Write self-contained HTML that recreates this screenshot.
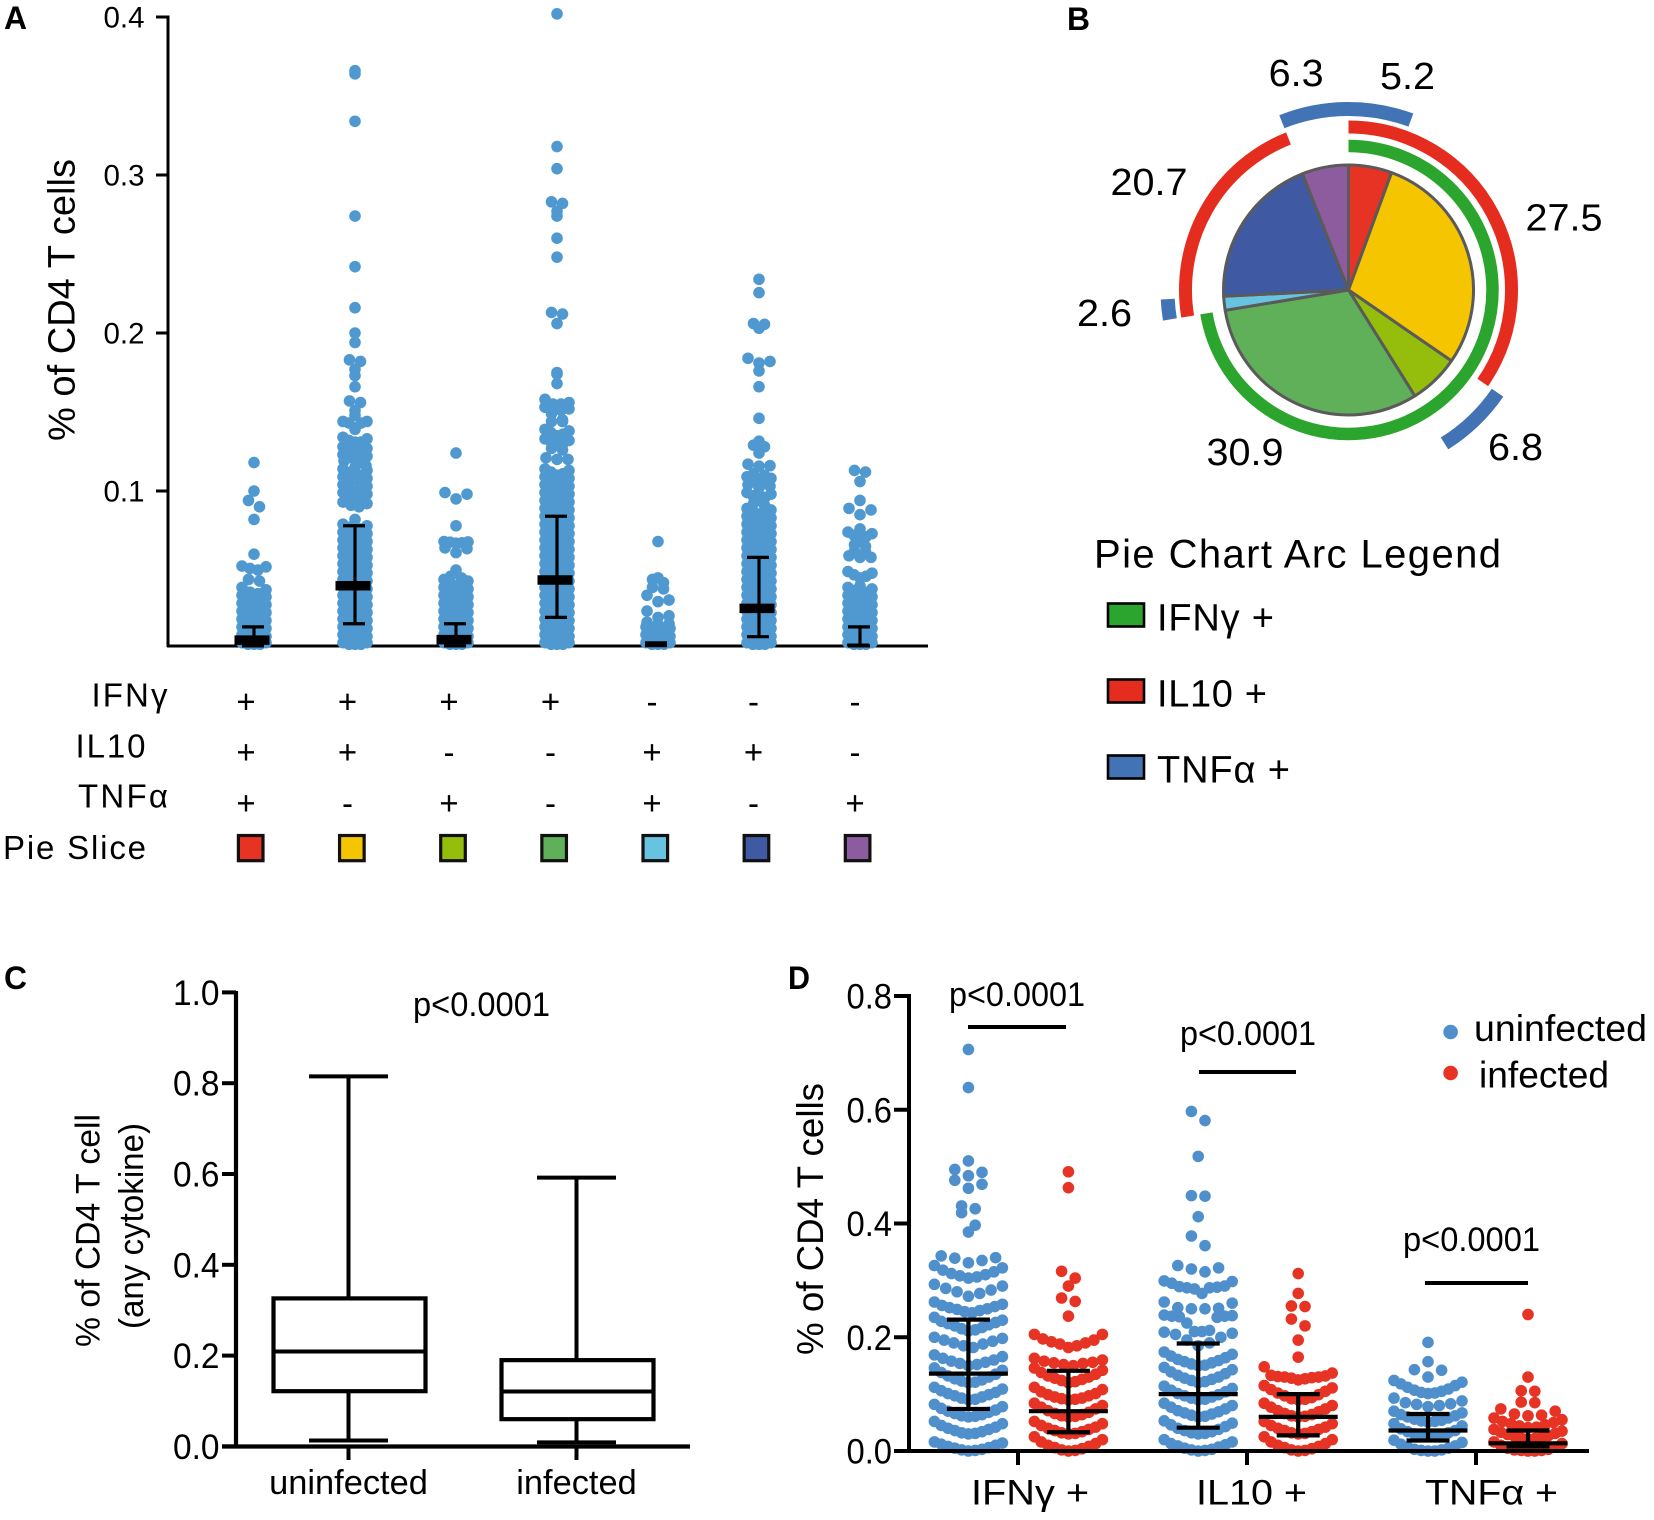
<!DOCTYPE html>
<html lang="en">
<head>
<meta charset="utf-8">
<title>Cytokine-producing CD4 T cells figure</title>
<style>
html,body{margin:0;padding:0;background:#fff;}
svg{display:block;}
text{font-family:"Liberation Sans",sans-serif;fill:#000;}
</style>
</head>
<body>
<svg id="figure" xmlns="http://www.w3.org/2000/svg" width="1654" height="1520" viewBox="0 0 1654 1520">
<rect x="0" y="0" width="1654" height="1520" fill="#fff"/>

<g id="panel-a">
<text x="4" y="29" font-size="32" font-weight="bold" textLength="23" lengthAdjust="spacingAndGlyphs">A</text>
<line x1="168" y1="15.5" x2="168" y2="647" stroke="#000" stroke-width="3"/>
<line x1="167" y1="646" x2="928" y2="646" stroke="#000" stroke-width="3"/>
<text transform="translate(74.7,441) rotate(-90)" font-size="38" textLength="282" lengthAdjust="spacingAndGlyphs">% of CD4 T cells</text>
<text x="91.5" y="706.7" font-size="33" textLength="76">IFNγ</text>
<text x="75.5" y="757.7" font-size="33" textLength="70">IL10</text>
<text x="78" y="807.7" font-size="33" textLength="90">TNFα</text>
<text x="3" y="859" font-size="33" textLength="143">Pie Slice</text>
</g>

<g id="panel-b">
<text x="1067" y="30" font-size="32" font-weight="bold" textLength="23" lengthAdjust="spacingAndGlyphs">B</text>
<text x="1094" y="567.3" font-size="40" textLength="407">Pie Chart Arc Legend</text>
<rect x="1108" y="603.5" width="36" height="23" fill="#2ca52e" stroke="#000" stroke-width="2.6"/>
<text x="1157" y="630.7" font-size="38" textLength="117">IFNγ +</text>
<rect x="1108" y="679.5" width="36" height="23" fill="#e52d1f" stroke="#000" stroke-width="2.6"/>
<text x="1157" y="706.7" font-size="38" textLength="110">IL10 +</text>
<rect x="1108" y="755.5" width="36" height="23" fill="#4274b5" stroke="#000" stroke-width="2.6"/>
<text x="1157" y="782.3" font-size="38" textLength="133">TNFα +</text>
</g>

<g id="panel-c">
<text x="4" y="989" font-size="32" font-weight="bold" textLength="23" lengthAdjust="spacingAndGlyphs">C</text>
<line x1="236" y1="991" x2="236" y2="1448" stroke="#000" stroke-width="4.2"/>
<line x1="222" y1="1446.5" x2="690" y2="1446.5" stroke="#000" stroke-width="4.2"/>
<text transform="translate(99.4,1347) rotate(-90)" font-size="34" textLength="233" lengthAdjust="spacingAndGlyphs">% of CD4 T cell</text>
<text transform="translate(143,1329) rotate(-90)" font-size="34" textLength="206" lengthAdjust="spacingAndGlyphs">(any cytokine)</text>
<text x="413" y="1016" font-size="34" textLength="137" lengthAdjust="spacingAndGlyphs">p&lt;0.0001</text>
</g>

<g id="panel-d">
<text x="788" y="989" font-size="32" font-weight="bold" textLength="22" lengthAdjust="spacingAndGlyphs">D</text>
<text transform="translate(823,1355) rotate(-90)" font-size="37" textLength="272" lengthAdjust="spacingAndGlyphs">% of CD4 T cells</text>
<line x1="1066" y1="1027" x2="968" y2="1027" stroke="#000" stroke-width="4"/>
<line x1="1199" y1="1072" x2="1296" y2="1072" stroke="#000" stroke-width="4"/>
<line x1="1425" y1="1283" x2="1528" y2="1283" stroke="#000" stroke-width="4"/>
<text x="949" y="1006" font-size="34" textLength="136" lengthAdjust="spacingAndGlyphs">p&lt;0.0001</text>
<text x="1180" y="1045" font-size="34" textLength="136" lengthAdjust="spacingAndGlyphs">p&lt;0.0001</text>
<text x="1403" y="1251" font-size="34" textLength="137" lengthAdjust="spacingAndGlyphs">p&lt;0.0001</text>
<circle cx="1450.6" cy="1032" r="7.3" fill="#4f8fcb"/>
<circle cx="1450.6" cy="1073" r="7.3" fill="#e63323"/>
<text x="1474" y="1041" font-size="37" textLength="173" lengthAdjust="spacingAndGlyphs">uninfected</text>
<text x="1479" y="1087.5" font-size="37" textLength="130" lengthAdjust="spacingAndGlyphs">infected</text>
</g>
</svg>

<script>
/* ---------- Panel A data ---------- */
const aTickValues = [0.1, 0.2, 0.3, 0.4];
const aTickLabels = ['0.1', '0.2', '0.3', '0.4'];
const aTripleValues = [0.118,0.100,0.094,0.090,0.082,0.060,0.0525,0.052,0.051,0.050,0.043,0.044,0.0375,0.039,
0.003,0.003,0.003,0.004,0.004,0.005,0.006,0.007,0.008,0.009,0.010,0.011,0.012,0.013,0.014,0.015,0.016,0.017,0.018,0.019,0.020,0.021,0.022,0.023,0.024,0.025,0.026,0.027,0.028,0.029,0.030,0.031,0.032,0.033,0.034,0.035,0.036];
const aIfnIl10Values = [0.366,0.364,0.334,0.274,0.242,0.216,0.200,0.194,0.182,0.183,0.177,0.173,0.166,0.156,0.157,0.151,0.148,0.143,0.143,0.144,0.144,0.139,0.140,
0.131,0.131,0.132,0.133,0.134,0.125,0.126,0.127,0.128,0.119,0.120,0.121,0.122,0.123,0.112,0.113,0.114,0.115,0.116,0.106,0.107,0.108,0.109,0.110,0.100,0.101,0.102,0.103,0.104,0.095,0.096,0.097,0.098,0.099,0.090,0.091,0.092,0.093,0.082,
0.003,0.003,0.003,0.004,0.004,0.005,0.006,0.007,0.008,0.009,0.010,0.011,0.012,0.013,0.014,0.015,0.016,0.017,0.018,0.019,0.020,0.021,0.022,0.023,0.024,0.025,0.026,0.027,0.028,0.029,0.030,0.031,0.032,0.033,0.034,0.035,0.036,0.037,0.038,0.039,0.040,0.041,0.042,0.043,0.044,0.045,0.046,0.047,0.048,0.049,0.050,0.051,0.052,0.053,0.054,0.055,0.056,0.057,0.058,0.059,0.060,0.061,0.062,0.063,0.064,0.065,0.066,0.067,0.068,0.069,0.070,0.071,0.072,0.073,0.074,0.075,0.076,0.077,0.078,0.079];
const aIfnTnfValues = [0.124,0.098,0.099,0.095,0.078,0.0676,0.0678,0.068,0.067,0.0672,0.0635,0.064,0.061,0.050,
0.003,0.003,0.003,0.004,0.004,0.005,0.006,0.007,0.008,0.009,0.010,0.011,0.012,0.013,0.014,0.015,0.016,0.017,0.018,0.019,0.020,0.021,0.022,0.023,0.024,0.025,0.026,0.027,0.028,0.029,0.030,0.031,0.032,0.033,0.034,0.035,0.036,0.037,0.038,0.039,0.040,0.041,0.042,0.043,0.044,0.045,0.046];
const aIfnValues = [0.402,0.318,0.304,0.282,0.283,0.277,0.274,0.260,0.248,0.212,0.213,0.206,0.174,0.175,0.168,0.158,0.155,0.155,0.156,0.151,0.151,0.152,0.153,0.149,0.144,0.144,0.145,0.135,0.136,0.137,0.138,0.139,0.130,0.130,0.131,0.132,0.133,0.126,0.127,0.120,0.120,0.121,
0.110,0.111,0.112,0.113,0.114,0.105,0.106,0.107,0.108,0.109,0.100,0.101,0.102,0.103,0.104,0.095,0.096,0.097,0.098,0.099,0.091,0.092,0.091,0.093,0.094,
0.003,0.003,0.003,0.004,0.004,0.005,0.006,0.007,0.008,0.009,0.010,0.011,0.012,0.013,0.014,0.015,0.016,0.017,0.018,0.019,0.020,0.021,0.022,0.023,0.024,0.025,0.026,0.027,0.028,0.029,0.030,0.031,0.032,0.033,0.034,0.035,0.036,0.037,0.038,0.039,0.040,0.041,0.042,0.043,0.044,0.045,0.046,0.047,0.048,0.049,0.050,0.051,0.052,0.053,0.054,0.055,0.056,0.057,0.058,0.059,0.060,0.061,0.062,0.063,0.064,0.065,0.066,0.067,0.068,0.069,0.070,0.071,0.072,0.073,0.074,0.075,0.076,0.077,0.078,0.079,0.080,0.081,0.082,0.083,0.084,0.085,0.086,0.087,0.088,0.089];
const aIl10TnfValues = [0.068,0.044,0.045,0.042,0.038,0.039,0.034,0.030,0.031,0.024,0.020,0.021,0.0155,0.016,0.017,
0.003,0.003,0.003,0.004,0.004,0.005,0.006,0.007,0.008,0.009,0.010,0.011,0.012,0.013,0.014];
const aIl10Values = [0.234,0.2255,0.2055,0.206,0.203,0.184,0.181,0.182,0.176,0.166,0.146,0.1315,0.128,0.129,0.124,0.1157,0.116,0.117,0.110,0.111,0.106,0.107,0.108,0.109,0.102,0.103,0.104,0.095,0.096,0.097,0.098,0.099,0.091,0.092,
0.0855,0.086,0.087,0.088,0.089,0.003,0.003,0.003,0.004,0.004,0.005,0.006,0.007,0.008,0.009,0.010,0.011,0.012,0.013,0.014,0.015,0.016,0.017,0.018,0.019,0.020,0.021,0.022,0.023,0.024,0.025,0.026,0.027,0.028,0.029,0.030,0.031,0.032,0.033,0.034,0.035,0.036,0.037,0.038,0.039,0.040,0.041,0.042,0.043,0.044,0.045,0.046,0.047,0.048,0.049,0.050,0.051,0.052,0.053,0.054,0.055,0.056,0.057,0.058,0.059,0.060,0.061,0.062,0.063,0.064,0.065,0.066,0.067,0.068,0.069,0.070,0.071,0.072,0.073,0.074,0.075,0.076,0.077,0.078,0.079,0.080,0.081,0.082,0.083,0.084];
const aTnfValues = [0.112,0.113,0.106,0.094,0.088,0.089,0.085,0.076,0.070,0.071,0.072,0.073,0.074,0.065,0.066,0.0615,0.062,0.058,0.058,0.059,0.045,0.046,0.047,0.048,0.049,
0.003,0.003,0.003,0.004,0.004,0.005,0.006,0.007,0.008,0.009,0.010,0.011,0.012,0.013,0.014,0.015,0.016,0.017,0.018,0.019,0.020,0.021,0.022,0.023,0.024,0.025,0.026,0.027,0.028,0.029,0.030,0.031,0.032,0.033,0.034,0.035,0.036,0.037,0.038,0.039,0.040];
const aMedians = [0.0056, 0.040, 0.0059, 0.0437, 0.003, 0.0257, 0.0025];
const aUpperQuartiles = [0.014, 0.078, 0.016, 0.084, 0.003, 0.058, 0.014];
const aLowerQuartiles = [0.002, 0.016, 0.002, 0.020, 0.003, 0.0078, 0.002];

/* ---------- Panel A cytokine table ---------- */
const ifnFlags = ['+','+','+','+','-','-','-'];
const il10Flags = ['+','+','-','-','+','+','-'];
const tnfFlags = ['+','-','+','-','+','-','+'];
const sliceColors = ['#e63323','#f5c500','#95bd0c','#60b05a','#68c3e0','#3f5aa3','#8c5c9e'];

/* ---------- Panel B data ---------- */
const sliceShares = [5.6, 29.0, 6.5, 31.3, 1.8, 19.8, 6.0];
const arcLabels = ['6.3', '5.2', '27.5', '6.8', '30.9', '2.6', '20.7'];

/* ---------- Panel C data ---------- */
const cTickValues = [0, 0.2, 0.4, 0.6, 0.8, 1.0];
const cTickLabels = ['0.0', '0.2', '0.4', '0.6', '0.8', '1.0'];
const cCategories = ['uninfected', 'infected'];
const cWhiskerHigh = [0.815, 0.592];
const cBoxTop = [0.326, 0.190];
const cBoxMedian = [0.209, 0.121];
const cBoxBottom = [0.1216, 0.060];
const cWhiskerLow = [0.013, 0.009];

/* ---------- Panel D data ---------- */
const dTickValues = [0, 0.2, 0.4, 0.6, 0.8];
const dTickLabels = ['0.0', '0.2', '0.4', '0.6', '0.8'];
const dCategories = ['IFNγ +', 'IL10 +', 'TNFα +'];
const dIfnUninfected = [0.000,0.001,0.002,0.003,0.005,0.006,0.008,0.010,0.012,0.014,0.016,
0.030,0.031,0.032,0.034,0.036,0.038,0.040,0.042,0.045,0.048,0.052,
0.060,0.061,0.062,0.064,0.066,0.068,0.070,0.072,0.075,0.078,0.082,
0.090,0.091,0.093,0.095,0.097,0.099,0.101,0.103,0.106,0.109,0.112,
0.120,0.121,0.123,0.125,0.127,0.130,0.132,0.135,0.138,0.142,0.146,
0.150,0.152,0.154,0.156,0.158,0.160,0.163,0.166,0.169,
0.182,0.185,0.188,0.190,0.193,0.195,0.198,0.200,
0.211,0.213,0.215,0.217,0.220,0.222,0.224,0.226,0.228,0.230,0.235,
0.243,0.245,0.247,0.249,0.250,0.252,0.254,0.256,0.258,0.262,
0.272,0.277,0.280,0.283,0.286,0.290,0.293,
0.304,0.306,0.308,0.310,0.312,0.315,0.318,0.322,0.326,
0.331,0.335,0.339,0.340,0.343,
0.385,0.397,0.419,0.426,0.431,0.462,0.469,0.476,0.484,0.490,0.495,0.510,0.639,0.706];
const dIfnInfected = [0.000,0.001,0.002,0.004,0.006,0.008,0.010,0.013,0.016,0.020,0.025,
0.030,0.031,0.032,0.034,0.036,0.038,0.040,0.042,0.045,0.048,0.052,
0.060,0.061,0.062,0.064,0.066,0.068,0.071,0.074,0.077,0.080,0.084,
0.090,0.091,0.092,0.093,0.095,0.097,0.099,0.101,0.104,0.108,0.112,
0.120,0.122,0.124,0.126,0.128,0.130,0.132,0.135,0.138,0.142,0.146,
0.150,0.152,0.154,0.156,0.158,0.160,0.163,0.155,
0.182,0.185,0.188,0.190,0.192,0.195,0.197,0.205,0.205,
0.237,0.263,0.269,0.290,0.304,0.316,0.463,0.491];
const dIl10Uninfected = [0.000,0.001,0.002,0.003,0.005,0.007,0.009,0.011,0.013,0.016,0.020,
0.030,0.031,0.032,0.034,0.036,0.038,0.040,0.043,0.046,0.049,0.053,
0.060,0.061,0.063,0.065,0.067,0.069,0.071,0.074,0.077,0.080,0.084,
0.090,0.091,0.093,0.095,0.097,0.099,0.101,0.104,0.107,0.110,0.114,
0.120,0.122,0.124,0.126,0.128,0.130,0.133,0.136,0.139,0.143,0.147,
0.150,0.151,0.153,0.155,0.157,0.159,0.161,0.164,0.167,0.170,0.174,
0.185,0.190,0.195,0.200,0.205,0.207,0.209,
0.210,0.210,0.212,0.225,0.235,0.236,0.237,0.237,0.238,0.239,
0.250,0.250,0.251,0.252,0.260,0.262,
0.277,0.285,0.287,0.287,0.288,0.289,0.290,0.295,0.298,0.299,
0.315,0.320,0.322,0.326,
0.361,0.378,0.412,0.448,0.449,0.518,0.581,0.597];
const dIl10Infected = [0.000,0.001,0.002,0.004,0.006,0.008,0.010,0.013,0.016,0.020,0.025,
0.030,0.031,0.032,0.034,0.036,0.038,0.040,0.042,0.045,0.048,0.052,
0.060,0.061,0.062,0.064,0.066,0.069,0.071,0.074,0.077,0.080,0.084,
0.090,0.091,0.092,0.094,0.097,0.099,0.102,0.105,0.108,0.111,0.115,
0.125,0.127,0.128,0.129,0.130,0.130,0.131,0.132,0.133,0.137,0.148,
0.165,0.195,0.220,0.232,0.254,0.255,0.277,0.312];
const dTnfUninfected = [0.000,0.000,0.001,0.002,0.003,0.005,0.007,0.009,0.012,0.015,0.019,
0.026,0.027,0.028,0.029,0.030,0.032,0.034,0.036,0.039,0.044,0.048,
0.051,0.052,0.053,0.054,0.056,0.058,0.060,0.062,0.064,0.067,0.070,
0.078,0.080,0.082,0.083,0.085,0.088,0.093,
0.101,0.102,0.103,0.105,0.107,0.109,0.112,0.115,0.118,0.121,0.124,
0.130,0.142,0.143,0.157,0.191];
const dTnfInfected = [0.000,0.000,0.001,0.001,0.002,0.003,0.005,0.007,0.010,0.013,0.016,
0.021,0.022,0.023,0.024,0.026,0.027,0.029,0.031,0.033,0.035,0.038,
0.041,0.042,0.044,0.046,0.048,0.050,0.052,0.055,0.058,
0.062,0.063,0.065,0.070,0.074,0.085,0.086,0.105,0.106,0.130,0.240];
const dMedians = [0.136, 0.070, 0.100, 0.060, 0.036, 0.0135];
const dUpperQuartiles = [0.231, 0.141, 0.189, 0.100, 0.065, 0.036];
const dLowerQuartiles = [0.074, 0.033, 0.041, 0.0275, 0.0185, 0.008];
const dBinSizes = [0.03, 0.03, 0.03, 0.03, 0.025, 0.02];

/* ---------- Axis functions ---------- */
function yA(v) { return 649 - v * 1580; }
function xA(i) { return 254 + i * 101; }
function ySign(row) { return 713 + row * 50.7; }
function xSign(i) { return 246 + i * 101.5; }
function ySwatch() { return 835.5; }
function xSwatch(i) { return 238.4 + i * 101.15; }
function yC(v) { return 1446.4 - v * 454; }
function xC(i) { return 348.5 + i * 228; }
function yD(v) { return 1451 - v * 568.75; }
function xD(i) { return 968.4 + i * 100 + Math.floor(i / 2) * 29.8; }
function xDGroup(i) { return 1018 + i * 229; }
function sliceAngle(share) { return share * 3.6; }

const SVG_NS = 'http://www.w3.org/2000/svg';
const panelA = document.getElementById('panel-a');
const panelB = document.getElementById('panel-b');
const panelC = document.getElementById('panel-c');
const panelD = document.getElementById('panel-d');

function make(parent, tag, attrs, content) {
  const node = document.createElementNS(SVG_NS, tag);
  Object.keys(attrs).forEach(function (k) { node.setAttribute(k, attrs[k]); });
  if (content !== undefined) node.textContent = content;
  parent.appendChild(node);
  return node;
}

/* Bin values; each bin spreads outward from the centre, lowest value in the middle,
   with spacing chosen so a partial row still fans out toward the column width. */
function swarm(values, binSize, fullWidth, maxStep) {
  const bins = new Map();
  values.forEach(function (v) {
    const b = Math.floor(v / binSize + 1e-9);
    if (!bins.has(b)) bins.set(b, []);
    bins.get(b).push(v);
  });
  const placed = [];
  bins.forEach(function (vals) {
    vals.sort(function (p, q) { return p - q; });
    const n = vals.length;
    const step = n > 1 ? Math.min(maxStep, fullWidth / (n - 1)) : 0;
    vals.forEach(function (v, i) {
      let slot;
      if (n % 2) slot = i === 0 ? 0 : (i % 2 ? (i + 1) / 2 : -i / 2);
      else slot = (i % 2 === 0 ? 1 : -1) * (Math.floor(i / 2) + 0.5);
      placed.push({ value: v, offset: slot * step });
    });
  });
  return placed;
}

/* ---------- Panel A ---------- */
aTickValues.forEach(function (v, i) {
  const tick = make(panelA, 'line', { x1: 156, x2: 168, y1: yA(v), y2: yA(v), stroke: '#000', 'stroke-width': 3 });
  
  
  const lab = make(panelA, 'text', { x: 103.5, y: yA(v) + 10.3, 'font-size': 30, textLength: 41, lengthAdjust: 'spacingAndGlyphs' }, aTickLabels[i]);
  
  
});
const aSeries = [aTripleValues, aIfnIl10Values, aIfnTnfValues, aIfnValues, aIl10TnfValues, aIl10Values, aTnfValues];
aSeries.forEach(function (values, c) {
  const group = make(panelA, 'g', { fill: '#4f99d0' });
  
  
  swarm(values, 0.005, 24, 11).forEach(function (p) {
    const dot = make(group, 'circle', { cx: xA(c) + p.offset, cy: yA(p.value), r: 5.8 });
    
    
  });
});
aMedians.forEach(function (m, c) {
  const x = xA(c);
  const hasWhisker = aUpperQuartiles[c] > aLowerQuartiles[c];
  if (hasWhisker) {
    const stem = make(panelA, 'line', { x1: x, x2: x, y1: yA(aUpperQuartiles[c]), y2: yA(aLowerQuartiles[c]), stroke: '#000', 'stroke-width': 3.2 });
    
    
    [aUpperQuartiles[c], aLowerQuartiles[c]].forEach(function (q) {
      const cap = make(panelA, 'line', { x1: x - 12, x2: x + 10, y1: yA(q), y2: yA(q), stroke: '#000', 'stroke-width': 3.2 });
      
      
    });
  }
  const thin = c === 4 || c === 6;
  const half = thin ? 11 : 17.5;
  const med = make(panelA, 'line', { x1: x - 2 - half, x2: x - 2 + half, y1: yA(m), y2: yA(m), stroke: '#000', 'stroke-width': thin ? (c === 4 ? 6 : 3) : 9.5 });
  
  
});
[ifnFlags, il10Flags, tnfFlags].forEach(function (flags, r) {
  flags.forEach(function (f, c) {
    const mark = make(panelA, 'text', { x: xSign(c), y: ySign(r), 'font-size': 33, 'text-anchor': 'middle' }, f);
    
    
  });
});
sliceColors.forEach(function (color, c) {
  const sw = make(panelA, 'rect', { x: xSwatch(c), y: ySwatch(), width: 24.6, height: 25.2, fill: color, stroke: '#111', 'stroke-width': 3.2 });
  
  
});

/* ---------- Panel B ---------- */
const pieCx = 1348.5, pieCy = 290, pieR = 125;
function polar(r, deg) {
  const a = (deg - 90) * Math.PI / 180;
  return [pieCx + r * Math.cos(a), pieCy + r * Math.sin(a)];
}
function arcPath(r, a0, a1) {
  const p0 = polar(r, a0), p1 = polar(r, a1);
  return 'M' + p0[0] + ' ' + p0[1] + 'A' + r + ' ' + r + ' 0 ' + ((a1 - a0) > 180 ? 1 : 0) + ' 1 ' + p1[0] + ' ' + p1[1];
}
const cumulative = [0];
sliceShares.forEach(function (s, i) { cumulative.push(cumulative[i] + sliceAngle(s)); });
sliceShares.forEach(function (s, i) {
  const a0 = cumulative[i], a1 = cumulative[i + 1];
  const p0 = polar(pieR, a0), p1 = polar(pieR, a1);
  const d = 'M' + pieCx + ' ' + pieCy + 'L' + p0[0] + ' ' + p0[1] + 'A' + pieR + ' ' + pieR + ' 0 ' + ((a1 - a0) > 180 ? 1 : 0) + ' 1 ' + p1[0] + ' ' + p1[1] + 'Z';
  const slice = make(panelB, 'path', { d: d, fill: sliceColors[i], stroke: '#5a5a5a', 'stroke-width': 3, 'stroke-linejoin': 'round' });
  
  
});
function drawArcs(flags, radius, width, color, name) {
  const n = flags.length;
  flags.forEach(function (f, i) {
    if (f !== '+' || flags[(i + n - 1) % n] === '+') return;
    let end = i, angle = cumulative[i];
    let span = 0;
    while (flags[end % n] === '+' && span < n) { angle += sliceAngle(sliceShares[end % n]); end++; span++; }
    const arc = make(panelB, 'path', { d: arcPath(radius, cumulative[i], angle), fill: 'none', stroke: color, 'stroke-width': width });
    
    
  });
}
drawArcs(ifnFlags, 144, 12.5, '#2ca52e', 'ifng-arc');
drawArcs(il10Flags, 163, 13, '#e52d1f', 'il10-arc');
drawArcs(tnfFlags, 181, 14, '#4274b5', 'tnfa-arc');
const arcLabelX = [1268.6, 1380, 1525.5, 1488, 1206.5, 1077, 1110.5];
const arcLabelY = [86, 89, 230.7, 460, 465, 326, 195];
arcLabels.forEach(function (t, i) {
  const lab = make(panelB, 'text', { x: arcLabelX[i], y: arcLabelY[i], 'font-size': 38, textLength: t.length === 3 ? 55 : 77, lengthAdjust: 'spacingAndGlyphs' }, t);
  
  
});

/* ---------- Panel C ---------- */
cTickValues.forEach(function (v, i) {
  const tick = make(panelC, 'line', { x1: 222, x2: 236, y1: yC(v), y2: yC(v), stroke: '#000', 'stroke-width': 4 });
  
  
  const lab = make(panelC, 'text', { x: 173, y: yC(v) + 12.5, 'font-size': 35, textLength: 46.5, lengthAdjust: 'spacingAndGlyphs' }, cTickLabels[i]);
  
  
});
cCategories.forEach(function (name, i) {
  const x = xC(i);
  const tick = make(panelC, 'line', { x1: x, x2: x, y1: 1446, y2: 1460, stroke: '#000', 'stroke-width': 4 });
  
  
  const lab = make(panelC, 'text', { x: x, y: 1494, 'font-size': 34.4, 'text-anchor': 'middle' }, name);
  
  
  const stem = make(panelC, 'line', { x1: x, x2: x, y1: yC(cWhiskerHigh[i]), y2: yC(cWhiskerLow[i]), stroke: '#000', 'stroke-width': 4 });
  
  
  [cWhiskerHigh[i], cWhiskerLow[i]].forEach(function (q) {
    const cap = make(panelC, 'line', { x1: x - 39.5, x2: x + 39.5, y1: yC(q), y2: yC(q), stroke: '#000', 'stroke-width': 4 });
    
    
  });
  const box = make(panelC, 'rect', { x: x - 75, y: yC(cBoxTop[i]), width: 152, height: yC(cBoxBottom[i]) - yC(cBoxTop[i]), fill: '#fff', stroke: '#000', 'stroke-width': 4.2 });
  
  
  const med = make(panelC, 'line', { x1: x - 75, x2: x + 77, y1: yC(cBoxMedian[i]), y2: yC(cBoxMedian[i]), stroke: '#000', 'stroke-width': 4 });
  
  
});

/* ---------- Panel D ---------- */
const dSeries = [dIfnUninfected, dIfnInfected, dIl10Uninfected, dIl10Infected, dTnfUninfected, dTnfInfected];
dSeries.forEach(function (values, c) {
  const group = make(panelD, 'g', { fill: c % 2 ? '#e63323' : '#4f8fcb' });
  
  
  swarm(values, dBinSizes[c], 68, 13.6).forEach(function (p) {
    const dot = make(group, 'circle', { cx: xD(c) + p.offset, cy: yD(p.value), r: 5.8 });
    
    
  });
});
const dAxisY = make(panelD, 'line', { x1: 909, x2: 909, y1: 994, y2: 1453, stroke: '#000', 'stroke-width': 4 });


const dAxisX = make(panelD, 'line', { x1: 894, x2: 1589, y1: yD(0), y2: yD(0), stroke: '#000', 'stroke-width': 4 });


dTickValues.forEach(function (v, i) {
  const tick = make(panelD, 'line', { x1: 894, x2: 909, y1: yD(v), y2: yD(v), stroke: '#000', 'stroke-width': 4 });
  
  
  const lab = make(panelD, 'text', { x: 846.5, y: yD(v) + 12.5, 'font-size': 35, textLength: 45.5, lengthAdjust: 'spacingAndGlyphs' }, dTickLabels[i]);
  
  
});
const dLabelX = [971, 1196, 1425];
const dLabelW = [118, 111, 133];
dCategories.forEach(function (name, i) {
  const tick = make(panelD, 'line', { x1: xDGroup(i), x2: xDGroup(i), y1: yD(0), y2: 1465, stroke: '#000', 'stroke-width': 4 });
  
  
  const lab = make(panelD, 'text', { x: dLabelX[i], y: 1504.5, 'font-size': 35, textLength: dLabelW[i], lengthAdjust: 'spacingAndGlyphs' }, name);
  
  
});
dMedians.forEach(function (m, c) {
  const x = xD(c);
  const stem = make(panelD, 'line', { x1: x, x2: x, y1: yD(dUpperQuartiles[c]), y2: yD(dLowerQuartiles[c]), stroke: '#000', 'stroke-width': 4.2 });
  
  
  [dUpperQuartiles[c], dLowerQuartiles[c]].forEach(function (q) {
    const cap = make(panelD, 'line', { x1: x - 21.5, x2: x + 21.5, y1: yD(q), y2: yD(q), stroke: '#000', 'stroke-width': 4.2 });
    
    
  });
  const med = make(panelD, 'line', { x1: x - 39.5, x2: x + 39.5, y1: yD(m), y2: yD(m), stroke: '#000', 'stroke-width': 4.2 });
  
  
});
</script>
</body>
</html>
